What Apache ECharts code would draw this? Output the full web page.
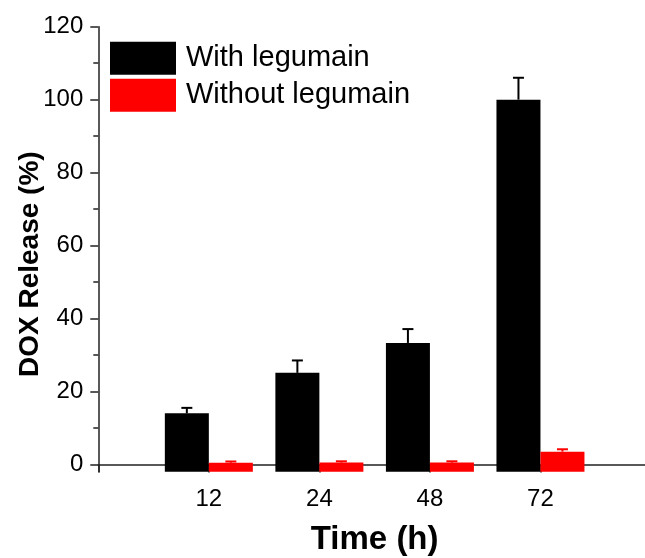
<!DOCTYPE html>
<html>
<head>
<meta charset="utf-8">
<title>DOX Release</title>
<script src="https://cdn.jsdelivr.net/npm/echarts@6/dist/echarts.min.js"></script>
<style>
  html, body { margin: 0; padding: 0; background: #fff; }
  #chart { width: 645px; height: 558px; }
</style>
</head>
<body>
<div id="chart"></div>
<script>
// categories (h)
var categories = ['12', '24', '48', '72']
// with legumain
var withValues = [14, 25.1, 33.3, 100]
var withErr = [1.5, 3.4, 3.8, 6]
// without legumain
var withoutValues = [0.45, 0.5, 0.5, 3.5]
var withoutErr = [0.35, 0.35, 0.35, 0.65]
// y ticks
var yMajorTicks = [0, 20, 40, 60, 80, 100, 120]
var yMinorTicks = [10, 30, 50, 70, 90, 110]
var yMin = -2
var yMax = 120

var font = "'Liberation Sans', Arial, sans-serif"
var axisColor = '#222'

// padded so the axis starts one step left of "12"
var xData = [''].concat(categories, [''])

function toData(values, errs) {
  return values.map(function (v, i) { return [i + 1, v, errs[i]] })
}

function barRender(side, color) {
  return function (params, api) {
    var x = api.value(0)
    var top = api.coord([x, api.value(1)])
    var base = api.coord([x, yMin])
    var errTop = api.coord([x, api.value(1) + api.value(2)])
    var w = 44
    var left = side < 0 ? top[0] - w : top[0]
    var cx = left + w / 2
    return {
      type: 'group',
      children: [
        {
          type: 'rect',
          shape: { x: left, y: top[1], width: w, height: base[1] - top[1] },
          style: { fill: color }
        },
        {
          type: 'line',
          shape: { x1: cx, y1: top[1], x2: cx, y2: errTop[1] },
          style: { stroke: color, lineWidth: 2 }
        },
        {
          type: 'line',
          shape: { x1: cx - 5.5, y1: errTop[1], x2: cx + 5.5, y2: errTop[1] },
          style: { stroke: color, lineWidth: 2 }
        }
      ]
    }
  }
}

var chart = echarts.init(document.getElementById('chart'), null, { renderer: 'canvas' })

chart.setOption({
  animation: false,
  textStyle: { fontFamily: font },
  grid: {
    left: 98.3,
    right: -6,
    top: 26.7,
    bottom: 86.3,
    containLabel: false,
    outerBoundsMode: 'none'
  },
  legend: {
    orient: 'vertical',
    left: 110,
    top: 41.7,
    padding: 0,
    icon: 'rect',
    itemWidth: 66,
    itemHeight: 33,
    itemGap: 4,
    selectedMode: false,
    textStyle: { fontSize: 29, color: '#000', fontFamily: font, padding: [0, 0, 0, 5] },
    data: ['With legumain', 'Without legumain']
  },
  xAxis: {
    type: 'category',
    data: xData,
    boundaryGap: false,
    name: 'Time (h)',
    nameLocation: 'middle',
    nameGap: 52,
    nameMoveOverlap: false,
    nameTextStyle: { fontSize: 33, fontWeight: 'bold', color: '#000', fontFamily: font },
    axisLine: { lineStyle: { color: axisColor, width: 1.5 } },
    axisTick: { interval: 0, length: 8, lineStyle: { color: axisColor, width: 1.5 } },
    axisLabel: { interval: 0, fontSize: 24, color: '#000', margin: 16, fontFamily: font },
    splitLine: { show: false }
  },
  yAxis: [
    {
      type: 'value',
      min: yMin,
      max: yMax,
      name: 'DOX Release (%)',
      nameLocation: 'middle',
      nameGap: 54,
      nameMoveOverlap: false,
      nameTextStyle: { fontSize: 28, fontWeight: 'bold', color: '#000', fontFamily: font, padding: [0, 30, 0, 0] },
      axisLine: { show: true, lineStyle: { color: axisColor, width: 1.5 } },
      axisTick: { show: true, length: 8, customValues: yMajorTicks, lineStyle: { color: axisColor, width: 1.5 } },
      axisLabel: { fontSize: 24, color: '#000', margin: 15, fontFamily: font, customValues: yMajorTicks },
      splitLine: { show: false }
    },
    {
      // minor ticks only
      type: 'value',
      position: 'left',
      min: yMin,
      max: yMax,
      axisLine: { show: false },
      axisTick: { show: true, length: 5, customValues: yMinorTicks, lineStyle: { color: axisColor, width: 1.5 } },
      axisLabel: { show: false },
      splitLine: { show: false }
    }
  ],
  series: [
    {
      name: 'With legumain',
      type: 'custom',
      itemStyle: { color: '#000000' },
      encode: { x: 0, y: 1 },
      data: toData(withValues, withErr),
      renderItem: barRender(-1, '#000000')
    },
    {
      name: 'Without legumain',
      type: 'custom',
      itemStyle: { color: '#ff0000' },
      encode: { x: 0, y: 1 },
      data: toData(withoutValues, withoutErr),
      renderItem: barRender(1, '#ff0000')
    }
  ]
})
</script>
</body>
</html>
